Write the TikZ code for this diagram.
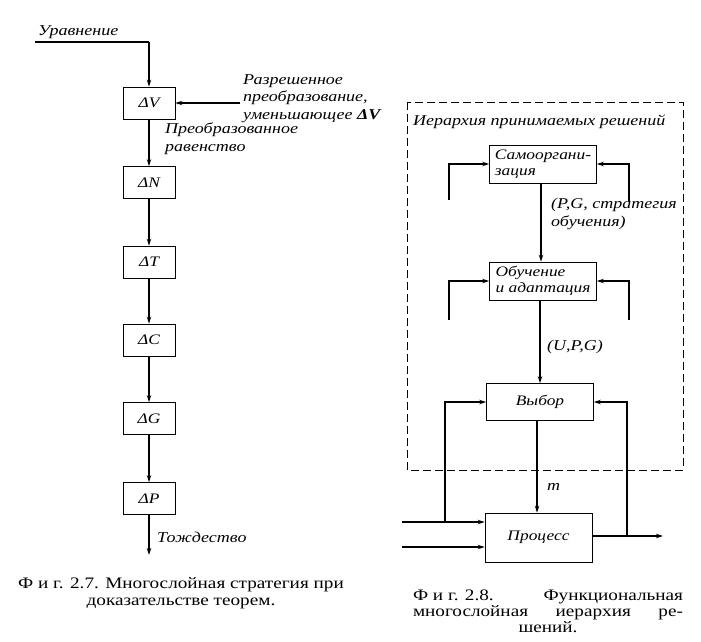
\documentclass[tikz,border=0pt]{standalone}
\usepackage{fontspec}
\setmainfont{Liberation Serif}
\newfontfamily\lab[FakeStretch=1.2]{Liberation Serif}
\usetikzlibrary{arrows.meta}
\begin{document}
\begin{tikzpicture}[x=1pt,y=-1pt,
  blk/.style={draw, line width=0.8pt, minimum width=52pt, minimum height=32pt,
    font=\lab\itshape\fontsize{14.5}{16}\selectfont, inner sep=2pt},
  blkw/.style={draw, line width=0.8pt, minimum width=107pt, minimum height=38pt,
    font=\lab\itshape\fontsize{14.5}{16}\selectfont, inner sep=2pt, align=left},
  conn/.style={line width=1.2pt, -{Stealth[length=7pt,width=4.5pt]}},
  plain/.style={line width=1.2pt},
  lbl/.style={font=\lab\itshape\fontsize{15}{17.5}\selectfont, inner sep=0pt, align=left},
  captxt/.style={font=\lab\fontsize{16}{17}\selectfont, inner sep=0pt, align=center}]
\useasboundingbox (0,0) rectangle (701,642);
\fill[white] (0,0) rectangle (701,642);

% ---------- Fig. 2.7 ----------
\node[blk] (dV) at (149,103) {ΔV};
\node[blk] (dN) at (149,182.5) {ΔN};
\node[blk] (dT) at (149,262) {ΔT};
\node[blk] (dC) at (149,340) {ΔC};
\node[blk] (dG) at (149,418.5) {ΔG};
\node[blk] (dP) at (149,498.5) {ΔP};

\coordinate (u0) at (35,42);
\coordinate (u1) at (149,42);
\draw[plain] (u0) -- (u1);
\draw[conn] (u1) -- (dV.north);
\node[lbl, anchor=west] (tu) at (38,32) {Уравнение};

\coordinate (r0) at (240,103);
\draw[conn] (r0) -- (dV.east);
\node[lbl, anchor=north west] (tr) at (243,74) {Разрешенное\\преобразование,\\уменьшающее {\bfseries ΔV}};

\draw[conn] (dV) -- (dN);
\node[lbl, anchor=north west] (tp) at (165,123) {Преобразованное\\равенство};
\draw[conn] (dN) -- (dT);
\draw[conn] (dT) -- (dC);
\draw[conn] (dC) -- (dG);
\draw[conn] (dG) -- (dP);
\coordinate (e0) at (149,555);
\draw[conn] (dP) -- (e0);
\node[lbl, anchor=west] (tt) at (157,537) {Тождество};

\node[captxt] (c1) at (181,593.5) {Ф и г. 2.7. Многослойная стратегия при\\доказательстве теорем.};

% ---------- Fig. 2.8 ----------
\draw[line width=0.8pt, dash pattern=on 8pt off 4pt] (407,102) rectangle (683,470);
\node[lbl, anchor=west] (th) at (413,122) {Иерархия принимаемых решений};

\node[blkw] (so) at (543,164) {Самооргани-\\зация};
\node[blkw] (ob) at (543,281) {Обучение\\и адаптация};
\node[blkw, minimum height=37pt] (vy) at (540,402) {Выбор};
\node[blkw, minimum height=49pt] (pr) at (538.5,537.5) {Процесс};

\draw[conn] (so.south -| 541,0) -- (ob.north -| 541,0);
\coordinate (sl) at (449,200);
\coordinate (sr) at (629,202);
\draw[conn] (sl) |- (so.west);
\draw[conn] (sr) |- (so.east);
\node[lbl, anchor=north west] (tg) at (551,198) {(\textit{P},\textit{G}, стратегия\\обучения)};

\coordinate (ol) at (449,320);
\coordinate (or) at (629,320);
\draw[conn] (ol) |- (ob.west);
\draw[conn] (or) |- (ob.east);
\draw[conn] (ob.south -| 540,0) -- (vy.north -| 540,0);
\node[lbl, anchor=west] (tu2) at (547,347) {(\textit{U},\textit{P},\textit{G})};

\draw[conn] (vy.south -| 537,0) -- (pr.north -| 537,0);
\node[lbl, anchor=west] (tm) at (547,487) {m};

\coordinate (i1) at (402,522);
\coordinate (i2) at (402,547);
\draw[conn] (i1) -- (i1 -| pr.west);
\draw[conn] (i2) -- (i2 -| pr.west);
\coordinate (j1) at (445,522);
\draw[conn] (j1) |- (vy.west);
\coordinate (o1) at (663,536);
\draw[conn] (o1 -| pr.east) -- (o1);
\coordinate (j2) at (627,536);
\draw[conn] (j2) |- (vy.east);

\node[captxt, font=\lab\fontsize{16}{16.2}\selectfont] (c2) at (548,611)
  {\hbox to 270pt{Ф и г. 2.8.\hfill Функциональная}\\
   \hbox to 270pt{многослойная\hfill иерархия\hfill ре-}\\
   шений.};
\end{tikzpicture}
\end{document}
